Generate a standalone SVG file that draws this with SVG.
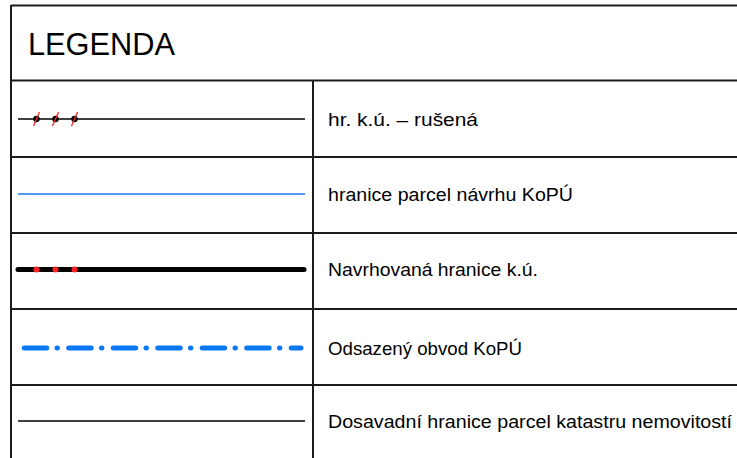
<svg xmlns="http://www.w3.org/2000/svg" width="737" height="458" viewBox="0 0 737 458">
<style>
.grid{stroke:#1c1c1c;stroke-width:2;fill:none}
.t{font-family:"Liberation Sans","DejaVu Sans",sans-serif;font-size:17.5px;fill:#000}
.title{font-family:"Liberation Sans","DejaVu Sans",sans-serif;font-size:31px;fill:#000}
.slash{stroke:#ff2020;stroke-width:1.3}
</style>
<rect width="737" height="458" fill="#fff"/>
<g id="frame">
<line class="grid" x1="11" y1="5.5" x2="737" y2="5.5"/>
<line class="grid" x1="11" y1="5" x2="11" y2="458"/>
<line class="grid" x1="11" y1="80.5" x2="737" y2="80.5"/>
<line class="grid" x1="11" y1="157" x2="737" y2="157"/>
<line class="grid" x1="11" y1="233" x2="737" y2="233"/>
<line class="grid" x1="11" y1="309" x2="737" y2="309"/>
<line class="grid" x1="11" y1="385" x2="737" y2="385"/>
<line class="grid" x1="313" y1="80" x2="313" y2="458"/>
</g>
<g id="title"><text class="title" x="28" y="55" textLength="147" lengthAdjust="spacingAndGlyphs">LEGENDA</text></g>
<g id="row1">
<line x1="18" y1="119" x2="305" y2="119" stroke="#000" stroke-width="1.5"/>
<circle cx="36.5" cy="119" r="3.2" fill="#000"/>
<circle cx="55.5" cy="119" r="3.2" fill="#000"/>
<circle cx="74.5" cy="119" r="3.2" fill="#000"/>
<line class="slash" x1="33.5" y1="126" x2="39.5" y2="112"/>
<line class="slash" x1="52.5" y1="126" x2="58.5" y2="112"/>
<line class="slash" x1="71.5" y1="126" x2="77.5" y2="112"/>
<text class="t" x="328" y="126" textLength="150" lengthAdjust="spacingAndGlyphs">hr. k.ú. – rušená</text>
</g>
<g id="row2">
<line x1="18" y1="194" x2="305" y2="194" stroke="#1a78f0" stroke-width="1.5"/>
<text class="t" x="328" y="201" textLength="245" lengthAdjust="spacingAndGlyphs">hranice parcel návrhu KoPÚ</text>
</g>
<g id="row3">
<line x1="18" y1="269.5" x2="304" y2="269.5" stroke="#000" stroke-width="5" stroke-linecap="round"/>
<circle cx="36.5" cy="269.5" r="3" fill="#ff2020"/>
<circle cx="55.5" cy="269.5" r="3" fill="#ff2020"/>
<circle cx="74.5" cy="269.5" r="3" fill="#ff2020"/>
<text class="t" x="328" y="276" textLength="210" lengthAdjust="spacingAndGlyphs">Navrhovaná hranice k.ú.</text>
</g>
<g id="row4">
<line x1="24.2" y1="348" x2="301" y2="348" stroke="#0a78f5" stroke-width="5" stroke-linecap="round" stroke-dasharray="22.5 10.3 0.4 11.3"/>
<text class="t" x="328" y="355" textLength="194" lengthAdjust="spacingAndGlyphs">Odsazený obvod KoPÚ</text>
</g>
<g id="row5">
<line x1="18" y1="421" x2="305" y2="421" stroke="#000" stroke-width="1.5"/>
<text class="t" x="328" y="428" textLength="404" lengthAdjust="spacingAndGlyphs">Dosavadní hranice parcel katastru nemovitostí</text>
</g>
</svg>
